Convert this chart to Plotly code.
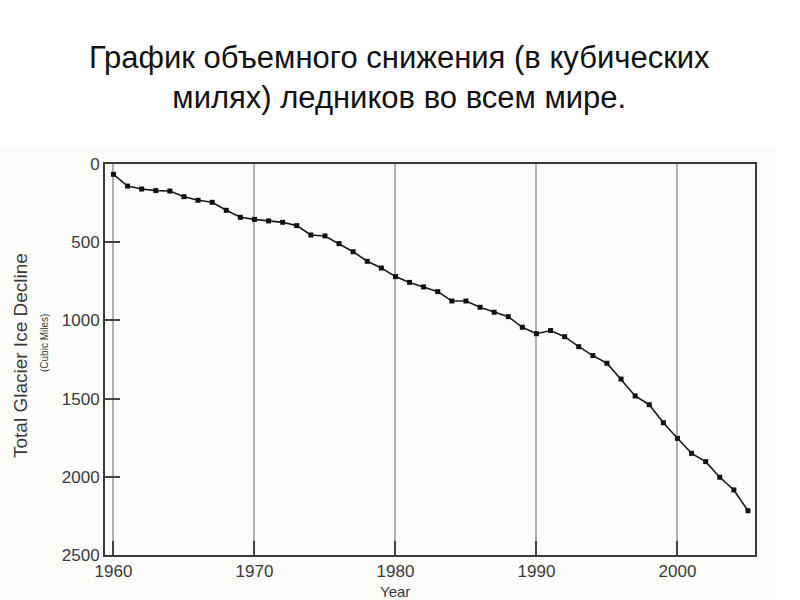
import plotly.graph_objects as go

# data
years = list(range(1960, 2006))
ice_decline = [
    66, 141, 160, 170, 173, 209, 232, 245, 296, 341,
    354, 364, 373, 394, 454, 460, 509, 561, 622, 665,
    720, 757, 786, 816, 876, 876, 916, 948, 976, 1044,
    1085, 1065, 1104, 1168, 1225, 1274, 1375, 1483, 1539, 1654,
    1754, 1850, 1903, 2003, 2084, 2217,
]
x_ticks = [1960, 1970, 1980, 1990, 2000]
y_ticks = [0, 500, 1000, 1500, 2000, 2500]

W, H = 800, 600
L, R, T, B = 105, 45, 164, 45


def py(p):
    # pixel row -> paper y
    return (H - B - p) / (H - T - B)


def px(p):
    # pixel column -> paper x
    return (p - L) / (W - L - R)


fig = go.Figure()
fig.add_trace(go.Scatter(
    x=years, y=ice_decline, mode="lines+markers",
    line=dict(color="#1a1a1a", width=1.6),
    marker=dict(symbol="square", size=5, color="#111"),
    showlegend=False, cliponaxis=False,
))

font_ax = dict(family="Liberation Sans, Arial, sans-serif", size=17, color="#3a3a3a")

fig.update_xaxes(
    range=[1959.4, 2005.5], tickvals=x_ticks, ticktext=[str(v) for v in x_ticks],
    showgrid=True, gridcolor="#b0b0b0", gridwidth=1.8,
    showline=True, linecolor="#3a3a3a", linewidth=2, mirror=True,
    ticks="inside", ticklen=14, tickwidth=1.5, tickcolor="#444",
    tickfont=font_ax, zeroline=False,
)
fig.update_yaxes(
    range=[2500, 0], tickvals=y_ticks, ticktext=[str(v) for v in y_ticks],
    showgrid=False,
    showline=True, linecolor="#3a3a3a", linewidth=2, mirror=True,
    ticks="inside", ticklen=15, tickwidth=1.5, tickcolor="#444",
    tickfont=font_ax, zeroline=False,
)

# faint backdrop behind the chart picture
fig.add_shape(type="rect", xref="paper", yref="paper", layer="below",
              x0=px(0), x1=px(777), y0=py(600), y1=py(148),
              fillcolor="#fcfcfb", line_width=0)

fig.add_annotation(
    text="График объемного снижения (в кубических<br>милях) ледников во всем мире.",
    xref="paper", yref="paper", x=px(399), y=py(77), showarrow=False,
    xanchor="center", yanchor="middle",
    font=dict(family="Liberation Sans, Arial, sans-serif", size=31, color="#111"),
)
fig.add_annotation(
    text="Total Glacier Ice Decline", textangle=-90,
    xref="paper", yref="paper", x=px(20), y=py(356), showarrow=False,
    xanchor="center", yanchor="middle",
    font=dict(family="Liberation Sans, Arial, sans-serif", size=19, color="#3a3a3a"),
)
fig.add_annotation(
    text="(Cubic Miles)", textangle=-90,
    xref="paper", yref="paper", x=px(44), y=py(343), showarrow=False,
    xanchor="center", yanchor="middle",
    font=dict(family="Liberation Sans, Arial, sans-serif", size=10, color="#3a3a3a"),
)
fig.add_annotation(
    text="Year", xref="x", yref="paper", x=1980, y=py(591), showarrow=False,
    xanchor="center", yanchor="middle",
    font=dict(family="Liberation Sans, Arial, sans-serif", size=15, color="#3a3a3a"),
)

fig.update_layout(
    width=W, height=H, margin=dict(l=L, r=R, t=T, b=B),
    paper_bgcolor="white", plot_bgcolor="white",
)
fig.write_html("out.html", config={"displayModeBar": False},
               post_script="document.body.style.margin='0';")
